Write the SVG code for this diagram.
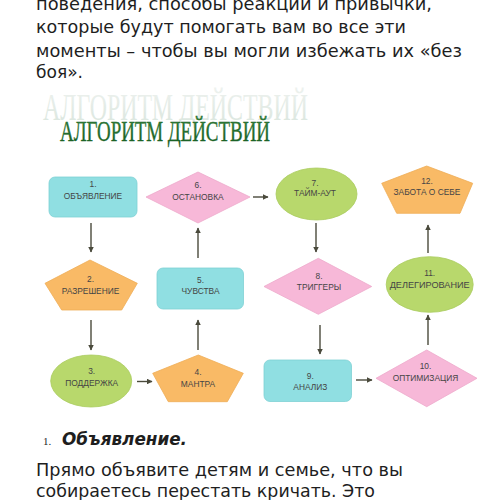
<svg xmlns="http://www.w3.org/2000/svg" width="501" height="500" viewBox="0 0 501 500">
<defs>
<style>
.body{font-family:"DejaVu Sans","Verdana",sans-serif;font-size:17px;fill:#1e1e1e}
.lbl{font-family:"Liberation Sans",Arial,sans-serif;font-size:8.4px;fill:#454545;text-anchor:middle}
.cyan{fill:#90dfe2;stroke:#7fd0d4;stroke-width:0.8}
.pink{fill:#f7b8d8;stroke:#eeaacb;stroke-width:0.8}
.green{fill:#b8d86c;stroke:#a9cb5e;stroke-width:0.8}
.orange{fill:#f9ba66;stroke:#efad57;stroke-width:0.8}
.conn line{stroke:#4a4a3c;stroke-width:1.4;fill:none}
</style>
<marker id="ah" viewBox="0 0 10 10" refX="9" refY="5" markerWidth="4" markerHeight="4" orient="auto" markerUnits="strokeWidth">
<path d="M0,0 L10,5 L0,10 z" fill="#4a4a3c"/>
</marker>
<linearGradient id="sh" x1="0" y1="0" x2="0" y2="1">
<stop offset="0" stop-color="#eef2ef"/>
<stop offset="1" stop-color="#d9e5dd"/>
</linearGradient>
<linearGradient id="tg" x1="0" y1="0" x2="0" y2="1">
<stop offset="0" stop-color="#3a8642"/>
<stop offset="1" stop-color="#145a1f"/>
</linearGradient>
</defs>
<rect width="501" height="500" fill="#ffffff"/>

<g id="intro-text">
<text class="body" x="36" y="9.5" textLength="396" lengthAdjust="spacingAndGlyphs">поведения, способы реакции и привычки,</text>
<text class="body" x="36" y="33" textLength="370" lengthAdjust="spacingAndGlyphs">которые будут помогать вам во все эти</text>
<text class="body" x="36" y="56.5" textLength="426" lengthAdjust="spacingAndGlyphs">моменты – чтобы вы могли избежать их «без</text>
<text class="body" x="36" y="78" textLength="47" lengthAdjust="spacingAndGlyphs">боя».</text>
</g>

<g id="title">
<text x="43" y="120" font-family="Liberation Serif,'Times New Roman',serif" font-size="37" fill="url(#sh)" textLength="265" lengthAdjust="spacingAndGlyphs">АЛГОРИТМ ДЕЙСТВИЙ</text>
<text x="60" y="141" font-family="Liberation Serif,'Times New Roman',serif" font-size="30" fill="url(#tg)" stroke="#1d6627" stroke-width="0.35" textLength="210" lengthAdjust="spacingAndGlyphs">АЛГОРИТМ ДЕЙСТВИЙ</text>
</g>

<g class="conn" id="connectors">
<line x1="91" y1="223" x2="91" y2="252" marker-end="url(#ah)"/>
<line x1="91" y1="320" x2="91" y2="350" marker-end="url(#ah)"/>
<line x1="137" y1="381.5" x2="152" y2="381.5" marker-end="url(#ah)"/>
<line x1="198" y1="350" x2="198" y2="320" marker-end="url(#ah)"/>
<line x1="198" y1="258" x2="198" y2="228" marker-end="url(#ah)"/>
<line x1="253" y1="197" x2="268" y2="197" marker-end="url(#ah)"/>
<line x1="316" y1="223" x2="316" y2="252" marker-end="url(#ah)"/>
<line x1="320" y1="325" x2="320" y2="354" marker-end="url(#ah)"/>
<line x1="356" y1="380" x2="372" y2="380" marker-end="url(#ah)"/>
<line x1="428" y1="345" x2="428" y2="315" marker-end="url(#ah)"/>
<line x1="428" y1="253" x2="428" y2="225" marker-end="url(#ah)"/>
</g>

<g id="node1">
<rect class="cyan" x="49" y="177" width="88" height="40" rx="6"/>
<text class="lbl" x="93" y="187">1.</text>
<text class="lbl" x="93" y="199">ОБЪЯВЛЕНИЕ</text>
</g>
<g id="node6">
<polygon class="pink" points="146,197 198,172 250,197 198,223"/>
<text class="lbl" x="198" y="188">6.</text>
<text class="lbl" x="198" y="200">ОСТАНОВКА</text>
</g>
<g id="node7">
<ellipse class="green" cx="316.5" cy="194" rx="40.5" ry="26"/>
<text class="lbl" x="315" y="185.5">7.</text>
<text class="lbl" x="315" y="196">ТАЙМ-АУТ</text>
</g>
<g id="node12">
<polygon class="orange" points="426.7,166 472.7,183.3 460,213.3 396.7,213.3 381.7,183.3"/>
<text class="lbl" x="427" y="184">12.</text>
<text class="lbl" x="427" y="195">ЗАБОТА О СЕБЕ</text>
</g>
<g id="node2">
<polygon class="orange" points="90,260 137.3,283.3 121.7,310 61.7,310 45,283.3"/>
<text class="lbl" x="90.5" y="282">2.</text>
<text class="lbl" x="90.5" y="294">РАЗРЕШЕНИЕ</text>
</g>
<g id="node5">
<rect class="cyan" x="157" y="268" width="86.5" height="41" rx="6"/>
<text class="lbl" x="200.5" y="283">5.</text>
<text class="lbl" x="200.5" y="294">ЧУВСТВА</text>
</g>
<g id="node8">
<polygon class="pink" points="264,286.5 318.3,258.3 371.7,286.5 318.3,314.3"/>
<text class="lbl" x="319" y="279">8.</text>
<text class="lbl" x="319" y="290">ТРИГГЕРЫ</text>
</g>
<g id="node11">
<ellipse class="green" cx="429.7" cy="284.5" rx="43.5" ry="27.8"/>
<text class="lbl" x="429.7" y="276">11.</text>
<text class="lbl" x="429.7" y="288" textLength="80" lengthAdjust="spacingAndGlyphs">ДЕЛЕГИРОВАНИЕ</text>
</g>
<g id="node3">
<ellipse class="green" cx="91.2" cy="381" rx="40.5" ry="26"/>
<text class="lbl" x="91.7" y="374">3.</text>
<text class="lbl" x="91.7" y="385.5">ПОДДЕРЖКА</text>
</g>
<g id="node4">
<polygon class="orange" points="198.3,355 243.3,373.3 227.3,401.7 168.3,401.7 152.7,373.3"/>
<text class="lbl" x="198" y="374.5">4.</text>
<text class="lbl" x="198" y="386.5">МАНТРА</text>
</g>
<g id="node9">
<rect class="cyan" x="264" y="360" width="87.5" height="41.5" rx="6"/>
<text class="lbl" x="310.3" y="379">9.</text>
<text class="lbl" x="310.3" y="390">АНАЛИЗ</text>
</g>
<g id="node10">
<polygon class="pink" points="376,378.3 426.7,350 477,378.3 426.7,406.7"/>
<text class="lbl" x="425.5" y="369">10.</text>
<text class="lbl" x="425.5" y="380.5">ОПТИМИЗАЦИЯ</text>
</g>

<g id="section-text">
<text x="43" y="445" font-family="Liberation Serif,'Times New Roman',serif" font-size="11" fill="#1e1e1e">1.</text>
<text x="62" y="445" font-family="'DejaVu Sans',Verdana,sans-serif" font-size="17" font-weight="bold" font-style="italic" fill="#1e1e1e" textLength="125" lengthAdjust="spacingAndGlyphs">Объявление.</text>
<text class="body" x="36" y="476" textLength="367" lengthAdjust="spacingAndGlyphs">Прямо объявите детям и семье, что вы</text>
<text class="body" x="36" y="497" textLength="339" lengthAdjust="spacingAndGlyphs">собираетесь перестать кричать. Это</text>
</g>
</svg>
